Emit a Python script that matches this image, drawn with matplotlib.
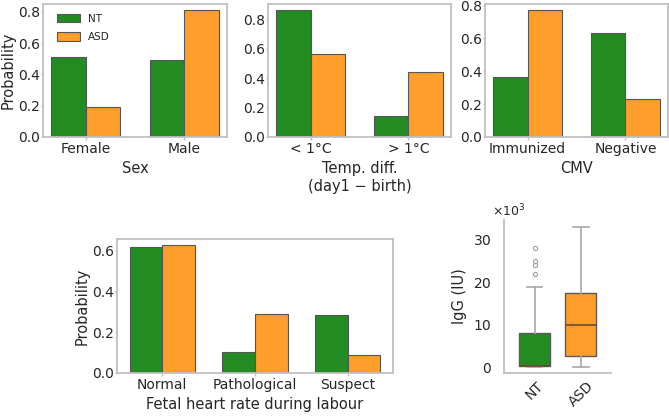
import matplotlib
matplotlib.use("Agg")
import matplotlib.pyplot as plt
import numpy as np

plt.rcParams['font.family'] = ['DejaVu Sans']
plt.rcParams['text.color'] = '#262626'
plt.rcParams['axes.labelcolor'] = '#262626'
plt.rcParams['xtick.color'] = '#262626'
plt.rcParams['ytick.color'] = '#262626'

groups = ["NT", "ASD"]
colors = {"NT": "#228B22", "ASD": "#FF9E2B"}

sex_cats = ["Female", "Male"]
sex_nt = [0.51, 0.49]
sex_asd = [0.19, 0.81]

temp_cats = ["< 1°C", "> 1°C"]
temp_nt = [0.862, 0.143]
temp_asd = [0.567, 0.442]

cmv_cats = ["Immunized", "Negative"]
cmv_nt = [0.367, 0.634]
cmv_asd = [0.770, 0.231]

fhr_cats = ["Normal", "Pathological", "Suspect"]
fhr_nt = [0.616, 0.102, 0.285]
fhr_asd = [0.623, 0.290, 0.089]

# IgG boxplot summary (IU)
igg_nt = dict(whislo=200, q1=300, med=400, q3=8000, whishi=18900,
              fliers=[22000, 24100, 25000, 28000])
igg_asd = dict(whislo=200, q1=2700, med=10100, q3=17600, whishi=33000,
               fliers=[])

W, H = 669, 417
fig = plt.figure(figsize=(W / 100, H / 100), dpi=100)

def ax_px(x0, y0, x1, y1):
    return fig.add_axes([x0 / W, (H - y1) / H, (x1 - x0) / W, (y1 - y0) / H])

SPINE = '#c0c0c0'
FS = 10

def style(ax, spines=("left", "right", "top", "bottom")):
    for s in ax.spines:
        if s in spines:
            ax.spines[s].set_color(SPINE)
            ax.spines[s].set_linewidth(1.3)
        else:
            ax.spines[s].set_visible(False)
    ax.tick_params(axis='both', labelsize=FS, length=2, pad=1.5, color=SPINE, width=1)
    ax.tick_params(axis='y', length=1.5, pad=0.8)

def bars(ax, cats, nt, asd, xlabel, ylabel=None, legend=False):
    x = np.arange(len(cats))
    w = 0.35
    ax.bar(x - w / 2, nt, w, color=colors["NT"], edgecolor='#555555', linewidth=0.8, label="NT")
    ax.bar(x + w / 2, asd, w, color=colors["ASD"], edgecolor='#555555', linewidth=0.8, label="ASD")
    ax.set_xticks(x)
    ax.set_xticklabels(cats)
    ax.set_xlabel(xlabel, fontsize=FS + 0.5, labelpad=4)
    if ylabel:
        ax.set_ylabel(ylabel, fontsize=FS + 0.5, labelpad=1.5)
    style(ax)
    if legend:
        ax.legend(loc='upper left', bbox_to_anchor=(0.03, 0.99), frameon=False, fontsize=7.5,
                  handlelength=2.2, handleheight=0.9, borderaxespad=0.4, labelspacing=0.8)

ax1 = ax_px(43, 4, 227, 137)
bars(ax1, sex_cats, sex_nt, sex_asd, "Sex", "Probability", legend=True)
ax1.set_yticks([0, 0.2, 0.4, 0.6, 0.8])

ax2 = ax_px(268, 4, 451, 137)
bars(ax2, temp_cats, temp_nt, temp_asd, "Temp. diff.\n(day1 \u2212 birth)")
ax2.set_yticks([0, 0.2, 0.4, 0.6, 0.8])

ax3 = ax_px(485, 4, 668, 137)
bars(ax3, cmv_cats, cmv_nt, cmv_asd, "CMV")
ax3.set_yticks([0, 0.2, 0.4, 0.6, 0.8])

ax4 = ax_px(117, 239, 393, 373)
bars(ax4, fhr_cats, fhr_nt, fhr_asd, "Fetal heart rate during labour", "Probability")
ax4.set_yticks([0, 0.2, 0.4, 0.6])

ax5 = ax_px(504, 220, 611, 373)
stats = []
for g, s in zip(groups, [igg_nt, igg_asd]):
    d = dict(s)
    d["label"] = g
    stats.append(d)
bp = ax5.bxp(stats, positions=[0, 1], widths=0.67, patch_artist=True, showfliers=True,
             boxprops=dict(edgecolor='#5a5a5a', linewidth=1.0),
             whiskerprops=dict(color='#a8a8a8', linewidth=1.2),
             capprops=dict(color='#a8a8a8', linewidth=1.2),
             medianprops=dict(color='#6b4a2a', linewidth=1.2),
             flierprops=dict(marker='o', markersize=3, markerfacecolor='none',
                             markeredgecolor='#a0a0a0', markeredgewidth=0.8))
for patch, g in zip(bp['boxes'], groups):
    patch.set_facecolor(colors[g])
ax5.set_xlim(-0.66, 1.65)
ax5.set_ylim(-1300, 34700)
ax5.set_yticks([0, 10000, 20000, 30000])
ax5.ticklabel_format(style='sci', axis='y', scilimits=(3, 3), useMathText=True)
ax5.set_xticks([0, 1])
ax5.set_xticklabels(groups, rotation=45)
ax5.set_ylabel("IgG (IU)", fontsize=FS + 0.5, labelpad=4)
style(ax5, spines=("left", "bottom"))
ax5.tick_params(axis='both', length=0)
ax5.tick_params(axis='y', pad=9)
ax5.tick_params(axis='x', pad=4)
off = ax5.yaxis.get_offset_text()
off.set_fontsize(FS - 1)
off.set_x(-0.11)

fig.savefig("out.png", dpi=100)
